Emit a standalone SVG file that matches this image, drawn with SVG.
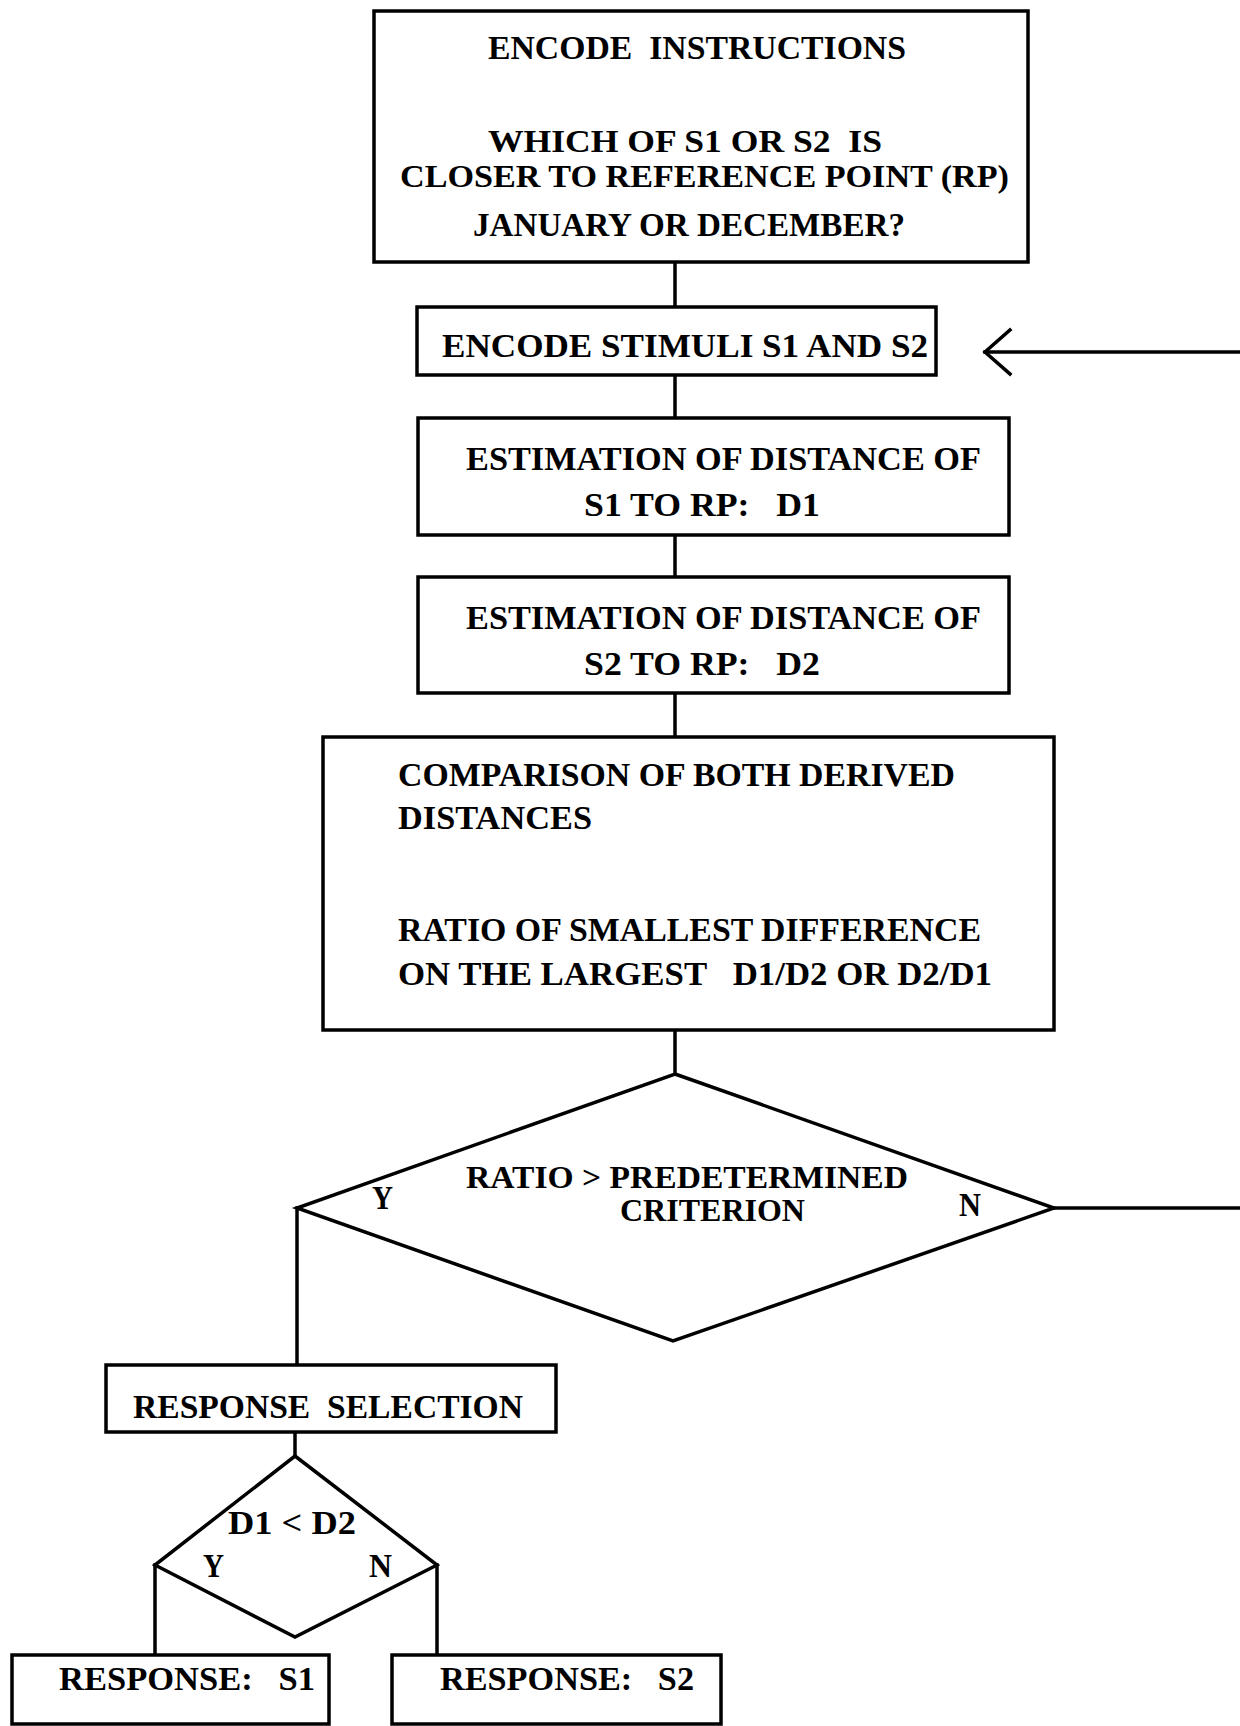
<svg xmlns="http://www.w3.org/2000/svg" width="1240" height="1726" viewBox="0 0 1240 1726" xml:space="preserve">
<style>
  .box { fill: #ffffff; stroke: #000000; stroke-width: 3.5; }
  .ln { fill: none; stroke: #000000; stroke-width: 3.5; stroke-linecap: square; }
  .t { font-family: "Liberation Serif", "Times New Roman", serif; font-weight: bold; font-size: 33px; fill: #000000; white-space: pre; }
  .tt { font-size: 31px; }
</style>
<rect x="0" y="0" width="1240" height="1726" fill="#ffffff"/>
<g id="connectors">
  <line class="ln" x1="675" y1="262" x2="675" y2="307"/>
  <line class="ln" x1="675" y1="375" x2="675" y2="418"/>
  <line class="ln" x1="675" y1="535" x2="675" y2="577"/>
  <line class="ln" x1="675" y1="693" x2="675" y2="737"/>
  <line class="ln" x1="675" y1="1030" x2="675" y2="1074"/>
  <line class="ln" x1="1054" y1="1208" x2="1240" y2="1208"/>
  <line class="ln" x1="1240" y1="352" x2="985" y2="352"/>
  <polyline class="ln" points="1010,330 985,352 1010,374"/>
  <line class="ln" x1="297" y1="1208" x2="297" y2="1365"/>
  <line class="ln" x1="295" y1="1432" x2="295" y2="1456"/>
  <line class="ln" x1="155" y1="1565" x2="155" y2="1655"/>
  <line class="ln" x1="437" y1="1565" x2="437" y2="1655"/>
</g>
<g id="encode-instructions">
  <rect class="box" x="374" y="11" width="654" height="251"/>
  <text class="t" x="488" y="59" textLength="418" lengthAdjust="spacingAndGlyphs">ENCODE  INSTRUCTIONS</text>
  <text class="t tt" x="488" y="152" textLength="394" lengthAdjust="spacingAndGlyphs">WHICH OF S1 OR S2  IS</text>
  <text class="t tt" x="400" y="187" textLength="609" lengthAdjust="spacingAndGlyphs">CLOSER TO REFERENCE POINT (RP)</text>
  <text class="t" x="473" y="236" textLength="432" lengthAdjust="spacingAndGlyphs">JANUARY OR DECEMBER?</text>
</g>
<g id="encode-stimuli">
  <rect class="box" x="417" y="307" width="519" height="68"/>
  <text class="t" x="442" y="357" textLength="486" lengthAdjust="spacingAndGlyphs">ENCODE STIMULI S1 AND S2</text>
</g>
<g id="estimation-d1">
  <rect class="box" x="418" y="418" width="591" height="117"/>
  <text class="t" x="466" y="470" textLength="515" lengthAdjust="spacingAndGlyphs">ESTIMATION OF DISTANCE OF</text>
  <text class="t" x="584" y="516" textLength="236" lengthAdjust="spacingAndGlyphs">S1 TO RP:   D1</text>
</g>
<g id="estimation-d2">
  <rect class="box" x="418" y="577" width="591" height="116"/>
  <text class="t" x="466" y="629" textLength="515" lengthAdjust="spacingAndGlyphs">ESTIMATION OF DISTANCE OF</text>
  <text class="t" x="584" y="675" textLength="236" lengthAdjust="spacingAndGlyphs">S2 TO RP:   D2</text>
</g>
<g id="comparison">
  <rect class="box" x="323" y="737" width="731" height="293"/>
  <text class="t" x="398" y="786" textLength="557" lengthAdjust="spacingAndGlyphs">COMPARISON OF BOTH DERIVED</text>
  <text class="t" x="398" y="829" textLength="194" lengthAdjust="spacingAndGlyphs">DISTANCES</text>
  <text class="t" x="398" y="941" textLength="583" lengthAdjust="spacingAndGlyphs">RATIO OF SMALLEST DIFFERENCE</text>
  <text class="t" x="398" y="985" textLength="594" lengthAdjust="spacingAndGlyphs">ON THE LARGEST   D1/D2 OR D2/D1</text>
</g>
<g id="ratio-decision">
  <polygon class="box" points="675,1074 1054,1208 673,1341 297,1208"/>
  <text class="t tt" x="466" y="1188" textLength="442" lengthAdjust="spacingAndGlyphs">RATIO &gt; PREDETERMINED</text>
  <text class="t tt" x="620" y="1221" textLength="185" lengthAdjust="spacingAndGlyphs">CRITERION</text>
  <text class="t" x="372" y="1209" textLength="21" lengthAdjust="spacingAndGlyphs">Y</text>
  <text class="t" x="959" y="1216" textLength="22" lengthAdjust="spacingAndGlyphs">N</text>
</g>
<g id="response-selection">
  <rect class="box" x="106" y="1365" width="450" height="67"/>
  <text class="t" x="133" y="1418" textLength="390" lengthAdjust="spacingAndGlyphs">RESPONSE  SELECTION</text>
</g>
<g id="d1-d2-decision">
  <polygon class="box" points="295,1456 437,1565 295,1637 155,1565"/>
  <text class="t" x="228" y="1534" textLength="128" lengthAdjust="spacingAndGlyphs">D1 &lt; D2</text>
  <text class="t" x="203" y="1577" textLength="21" lengthAdjust="spacingAndGlyphs">Y</text>
  <text class="t" x="369" y="1577" textLength="23" lengthAdjust="spacingAndGlyphs">N</text>
</g>
<g id="response-s1">
  <rect class="box" x="12" y="1655" width="317" height="69"/>
  <text class="t" x="59" y="1690" textLength="256" lengthAdjust="spacingAndGlyphs">RESPONSE:   S1</text>
</g>
<g id="response-s2">
  <rect class="box" x="392" y="1655" width="329" height="69"/>
  <text class="t" x="440" y="1690" textLength="254" lengthAdjust="spacingAndGlyphs">RESPONSE:   S2</text>
</g>
</svg>
